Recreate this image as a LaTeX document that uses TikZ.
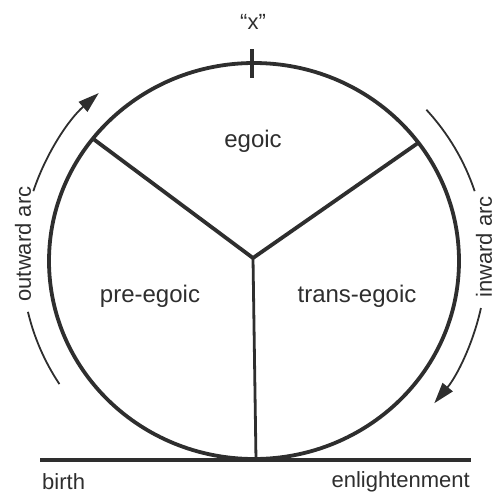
\documentclass[tikz,border=0pt]{standalone}
\usepackage{fontspec}
\setmainfont{Liberation Sans}
\usetikzlibrary{arrows.meta}
\begin{document}
\begin{tikzpicture}[x=1pt,y=-1pt,
  heavy/.style={line width=3.8pt, draw=black!82},
  medium/.style={line width=2.8pt, draw=black!82},
  arcline/.style={line width=1.8pt, draw=black!82},
  lbl/.style={font=\fontsize{22}{26}\selectfont, text=black!82, inner sep=0pt},
  biglbl/.style={font=\fontsize{24}{28}\selectfont, text=black!82, inner sep=0pt},
  tip/.style={-{Triangle[length=21pt,width=13pt]}}]
\useasboundingbox (0,0) rectangle (496,493);
% key points
\coordinate (c) at (254,261);
\coordinate (j) at (253,258);
\coordinate (lend) at (92,138);
\coordinate (rend) at (418,143);
\coordinate (bot) at (256,460);
\coordinate (bl) at (40,460);
\coordinate (br) at (471,460);
\coordinate (tickt) at (252,49);
\coordinate (tickb) at (252,78);
% circle
\draw[heavy] (c) ellipse [x radius=205, y radius=198];
% spokes
\draw[heavy,line join=miter] (lend) -- (j) -- (rend);
\draw[medium] (j) -- (bot);
% baseline and tick
\draw[heavy] (bl) -- (br);
\draw[heavy] (tickt) -- (tickb);
% outward arc (left)
\draw[arcline] (c) ++(147:232 and 226) arc[start angle=147, end angle=167, x radius=232, y radius=226];
\draw[arcline,tip] (c) ++(-162:232 and 226) arc[start angle=-162, end angle=-132, x radius=232, y radius=226];
% inward arc (right)
\draw[arcline] (c) ++(-42:232 and 226) arc[start angle=-42, end angle=-18, x radius=232, y radius=226];
\draw[arcline,tip] (c) ++(12:232 and 226) arc[start angle=12, end angle=39, x radius=232, y radius=226];
% labels
\node[lbl] (x) at (253,22) {“x”};
\node[biglbl] (ego) at (253,141) {egoic};
\node[biglbl] (pre) at (150,296) {pre-egoic};
\node[biglbl] (trans) at (357,296) {trans-egoic};
\node[lbl,anchor=west] (birth) at (42,482) {birth};
\node[lbl,anchor=east] (enl) at (470,482) {enlightenment};
\node[lbl,rotate=90] (out) at (23,244) {outward arc};
\node[lbl,rotate=90] (in) at (484,247) {inward arc};
\end{tikzpicture}
\end{document}
